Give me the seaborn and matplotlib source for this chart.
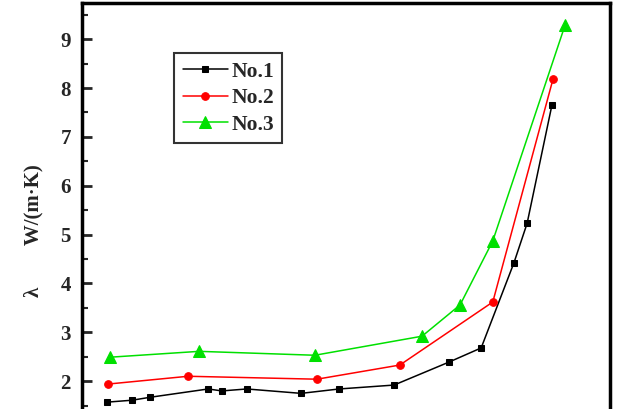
import numpy as np
import matplotlib
matplotlib.use("Agg")
import matplotlib.pyplot as plt
import seaborn as sns
import pandas as pd
from matplotlib.ticker import MultipleLocator

# Datos (eje x recortado en el original, escala arbitraria)
x_no1 = [47, 95, 129, 239, 265, 312, 415, 487, 591, 695, 756, 818, 843, 890]
y_no1 = [1.57, 1.61, 1.67, 1.84, 1.80, 1.84, 1.75, 1.84, 1.92, 2.39, 2.68, 4.42, 5.23, 7.65]

x_no2 = [49, 201, 445, 602, 778, 892]
y_no2 = [1.94, 2.10, 2.04, 2.33, 3.62, 8.18]

x_no3 = [53, 222, 441, 644, 716, 778, 915]
y_no3 = [2.49, 2.61, 2.53, 2.92, 3.56, 4.87, 9.29]

series = ['No.1', 'No.2', 'No.3']
colores = ['black', '#ff0000', '#00e000']
marcadores = ['s', 'o', '^']
tam_marcador = [5, 5.5, 8]

sns.set_style("ticks")
plt.rcParams['font.family'] = ['Liberation Serif', 'DejaVu Serif']
plt.rcParams['font.weight'] = 'bold'

fig = plt.figure(figsize=(6.2, 4.09), dpi=100)
ax = fig.add_axes([82 / 620, 0.0, (610 - 82) / 620, 1 - 3 / 409])

datos = [(x_no1, y_no1), (x_no2, y_no2), (x_no3, y_no3)]
for (xs, ys), nombre, c, m, ms in zip(datos, series, colores, marcadores, tam_marcador):
    df = pd.DataFrame({'x': xs, 'y': ys})
    sns.lineplot(data=df, x='x', y='y', ax=ax, color=c, marker=m,
                 markersize=ms, markeredgecolor=c, linewidth=1.1,
                 label=nombre, sort=False)

ax.set_xlim(0, 1000)
ax.set_ylim(1.43, 9.74)
ax.yaxis.set_major_locator(MultipleLocator(1))
ax.yaxis.set_minor_locator(MultipleLocator(0.5))
ax.tick_params(axis='y', which='major', direction='in', length=7, width=2,
               labelsize=15, pad=8)
ax.tick_params(axis='y', which='minor', direction='in', length=4.5, width=1.5)
ax.tick_params(axis='x', which='both', bottom=False, labelbottom=False)
for lbl in ax.get_yticklabels():
    lbl.set_fontweight('bold')

for lado in ['left', 'top', 'right']:
    ax.spines[lado].set_linewidth(2.5)
    ax.spines[lado].set_color('black')
ax.spines['bottom'].set_visible(False)

ax.set_xlabel('')
ax.set_ylabel('λ        W/(m·K)', fontsize=15, fontweight='bold')
ax.yaxis.set_label_coords(-0.072, 0.44)

leg = ax.legend(loc='upper left', bbox_to_anchor=((174 - 82) / 528, 1 - 50 / 406),
                frameon=True, fancybox=False, shadow=False, fontsize=15.5,
                handlelength=2.1, handletextpad=0.15, borderpad=0.4,
                labelspacing=0.3, borderaxespad=0)
leg.get_frame().set_edgecolor('black')
leg.get_frame().set_linewidth(1.5)
for t in leg.get_texts():
    t.set_fontweight('bold')

fig.savefig('out.png', dpi=100)
